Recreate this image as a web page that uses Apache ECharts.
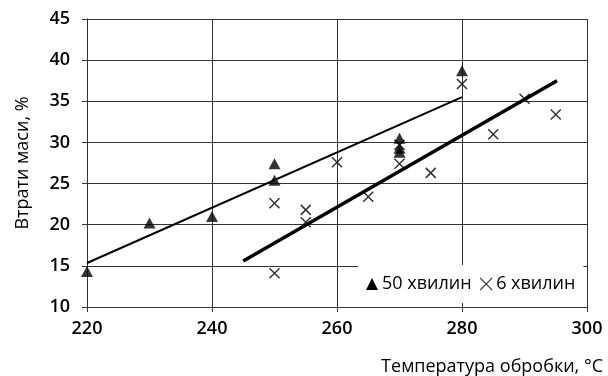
<!DOCTYPE html>
<html>
<head>
<meta charset="utf-8">
<script src="https://cdn.jsdelivr.net/npm/echarts@6/dist/echarts.min.js"></script>
<style>html,body{margin:0;padding:0;background:#fff}#c{width:608px;height:376px}</style>
</head>
<body>
<div id="c"></div>
<script>
// 50 хвилин (triangles): [temperature, mass loss %]
var temps50 = [220, 230, 240, 250, 250, 270, 270, 270, 280];
var loss50  = [14.3, 20.2, 21.0, 27.4, 25.4, 30.5, 29.3, 28.8, 38.7];
// 6 хвилин (crosses)
var temps6 = [250, 250, 255, 255, 260, 265, 270, 270, 275, 280, 285, 290, 295];
var loss6  = [22.6, 14.1, 21.8, 20.3, 27.6, 23.4, 29.7, 27.4, 26.3, 37.1, 31.0, 35.3, 33.4];
// trend lines (endpoints)
var trend50X = [220, 280];
var trend50Y = [15.35, 35.5];
var trend6X = [245, 295.2];
var trend6Y = [15.6, 37.5];
var seriesNames = ['50 хвилин', '6 хвилин'];
var xTicks = [220, 240, 260, 280, 300];
var yTicks = [10, 15, 20, 25, 30, 35, 40, 45];

function zip(a, b) { return a.map(function (v, i) { return [v, b[i]]; }); }

var FONT = 'Open Sans';
var chart = echarts.init(document.getElementById('c'), null, {renderer: 'canvas'});
var crossPath = 'path://M0,0L10,10M10,0L0,10';

chart.setOption({
  animation: false,
  backgroundColor: '#fff',
  textStyle: {fontFamily: FONT},
  grid: {left: 87, right: 21, top: 19, bottom: 69, containLabel: false},
  legend: {
    left: 358, top: 265,
    padding: [10, 8, 10, 8],
    backgroundColor: '#fff',
    itemGap: 8,
    itemWidth: 12, itemHeight: 12,
    data: [
      {name: seriesNames[0], icon: 'triangle', itemStyle: {color: '#000'}},
      {name: seriesNames[1], icon: crossPath, itemStyle: {color: 'transparent', borderColor: '#444', borderWidth: 1.1}}
    ],
    textStyle: {fontFamily: FONT, fontSize: 18, color: '#000', padding: [0, 0, 0, -1]}
  },
  xAxis: {
    type: 'value', min: xTicks[0], max: xTicks[xTicks.length - 1], interval: 20,
    name: 'Температура обробки, °C',
    nameLocation: 'end', nameGap: 16,
    nameTextStyle: {fontFamily: FONT, fontSize: 18, color: '#000', align: 'right', verticalAlign: 'top', padding: [51, 0, 0, 0]},
    axisLine: {show: true, lineStyle: {color: '#333', width: 1}},
    axisTick: {show: true, inside: false, length: 5, lineStyle: {color: '#333'}},
    axisLabel: {margin: 13, fontSize: 18, fontWeight: 600, color: '#000', fontFamily: FONT},
    splitLine: {show: true, lineStyle: {color: '#333', width: 1}}
  },
  yAxis: {
    type: 'value', min: yTicks[0], max: yTicks[yTicks.length - 1], interval: 5,
    name: 'Втрати маси, %',
    nameLocation: 'middle', nameGap: 55, nameRotate: 90,
    nameTextStyle: {fontFamily: FONT, fontSize: 18, color: '#000'},
    axisLine: {show: true, lineStyle: {color: '#333', width: 1}},
    axisTick: {show: true, inside: false, length: 5, lineStyle: {color: '#333'}},
    axisLabel: {margin: 17, fontSize: 18, fontWeight: 600, color: '#000', fontFamily: FONT},
    splitLine: {show: true, lineStyle: {color: '#333', width: 1}}
  },
  series: [
    {
      name: seriesNames[0], type: 'line', data: zip(trend50X, trend50Y),
      showSymbol: false, symbol: 'none', lineStyle: {color: '#000', width: 2}, z: 3,
      silent: true, legendHoverLink: false
    },
    {
      name: seriesNames[1], type: 'line', data: zip(trend6X, trend6Y),
      showSymbol: false, symbol: 'none', lineStyle: {color: '#000', width: 3.5}, z: 3,
      silent: true, legendHoverLink: false
    },
    {
      name: seriesNames[0], type: 'scatter', data: zip(temps50, loss50),
      symbol: 'triangle', symbolSize: [12, 11],
      itemStyle: {color: '#000'}, z: 4
    },
    {
      name: seriesNames[1], type: 'scatter', data: zip(temps6, loss6),
      symbol: crossPath, symbolSize: 10,
      itemStyle: {color: 'transparent', borderColor: '#000', borderWidth: 1.5}, z: 4
    }
  ]
});
</script>
</body>
</html>
